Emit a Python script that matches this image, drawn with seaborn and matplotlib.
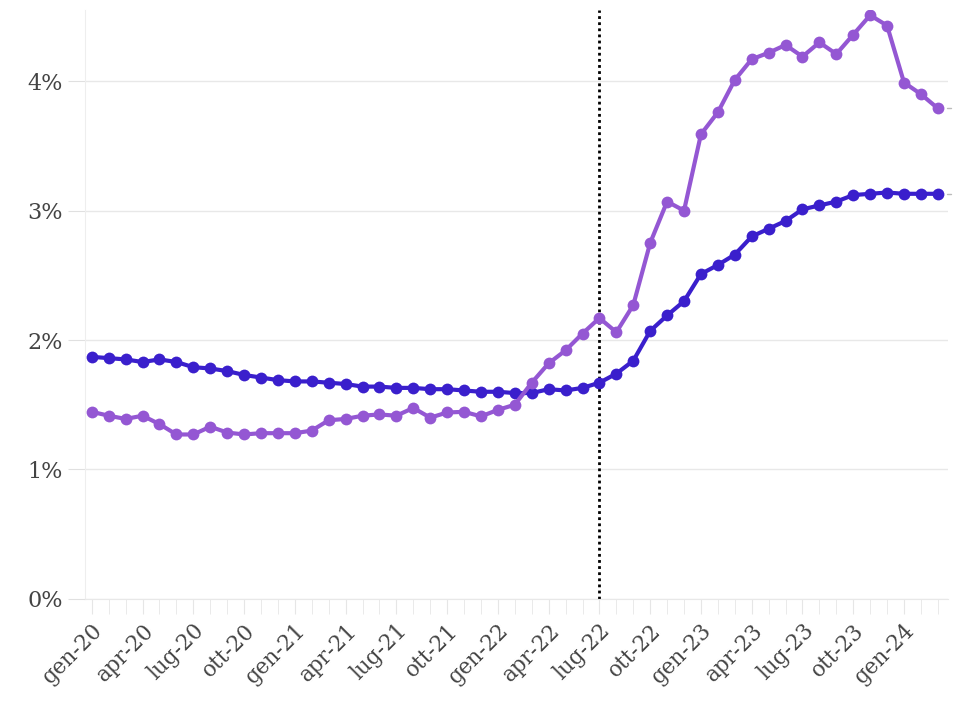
import numpy as np
import pandas as pd
import seaborn as sns
import matplotlib.pyplot as plt
from matplotlib.ticker import MultipleLocator, FuncFormatter

# mesi gen-20 ... mar-24
mesi = ["gen", "feb", "mar", "apr", "mag", "giu", "lug", "ago", "set", "ott", "nov", "dic"]
periodi = [f"{mesi[i % 12]}-{20 + i // 12}" for i in range(51)]

serie_blu = [1.87, 1.86, 1.85, 1.83, 1.85, 1.83, 1.79, 1.78, 1.76, 1.73,
             1.71, 1.69, 1.68, 1.68, 1.67, 1.66, 1.64, 1.64, 1.63, 1.63,
             1.62, 1.62, 1.61, 1.60, 1.60, 1.59, 1.59, 1.62, 1.61, 1.63,
             1.67, 1.74, 1.84, 2.07, 2.19, 2.30, 2.51, 2.58, 2.66, 2.80,
             2.86, 2.92, 3.01, 3.04, 3.07, 3.12, 3.13, 3.14, 3.13, 3.13,
             3.13]
serie_viola = [1.445, 1.415, 1.39, 1.415, 1.35, 1.27, 1.27, 1.33, 1.285, 1.27,
               1.28, 1.28, 1.28, 1.30, 1.38, 1.39, 1.415, 1.425, 1.415, 1.475,
               1.40, 1.44, 1.445, 1.41, 1.46, 1.50, 1.67, 1.82, 1.92, 2.05,
               2.17, 2.06, 2.27, 2.75, 3.07, 3.00, 3.59, 3.76, 4.01, 4.17,
               4.22, 4.28, 4.19, 4.30, 4.21, 4.36, 4.51, 4.43, 3.99, 3.90,
               3.79]

df = pd.concat([
    pd.DataFrame({"x": np.arange(len(periodi)), "val": serie_blu, "serie": "blu"}),
    pd.DataFrame({"x": np.arange(len(periodi)), "val": serie_viola, "serie": "viola"}),
])

sns.set_style("white")
plt.rcParams['font.family'] = ['DejaVu Serif']

fig = plt.figure(figsize=(9.74, 7.18), dpi=100)
ax = fig.add_axes([0.0873, 0.166, 0.886, 0.820])

pal = {"blu": "#3a1fcc", "viola": "#9457d3"}
sns.lineplot(data=df, x="x", y="val", hue="serie", palette=pal, ax=ax,
             marker="o", markersize=8.5, markeredgewidth=0, linewidth=3,
             legend=False, zorder=3)

# linea verticale lug-22
ax.axvline(periodi.index("lug-22"), color="black", linestyle=(0, (1, 1.2)),
           linewidth=2, zorder=2)

# trattini a destra dell'ultimo valore
ax.plot([50.55, 50.75], [serie_viola[-1]] * 2, color="#bbbbbb", lw=1, clip_on=False)
ax.plot([50.55, 50.75], [serie_blu[-1]] * 2, color="#bbbbbb", lw=1, clip_on=False)

ax.set_xlim(-0.4, 50.6)
ax.set_ylim(0, 4.55)
ax.set_xlabel("")
ax.set_ylabel("")

ax.set_yticks([0, 1, 2, 3, 4])
ax.yaxis.set_major_formatter(FuncFormatter(lambda v, p: f"{v:.0f}%"))
ax.set_xticks(range(0, 51, 3))
ax.set_xticklabels(periodi[::3], rotation=45, ha="right", rotation_mode="anchor")
ax.xaxis.set_minor_locator(MultipleLocator(1))

ax.grid(axis="y", color="#e8e8e8", linewidth=1)
for s in ["top", "right"]:
    ax.spines[s].set_visible(False)
ax.spines["left"].set_color("#eeeeee")
ax.spines["bottom"].set_color("#e8e8e8")

ax.tick_params(axis="y", length=12, color="#e0e0e0", labelsize=16,
               labelcolor="#444444", pad=4, left=True)
ax.tick_params(axis="x", which="both", length=11, color="#e6e6e6",
               labelsize=15.5, labelcolor="#444444", pad=4, bottom=True)

fig.savefig("out.png", dpi=100)
